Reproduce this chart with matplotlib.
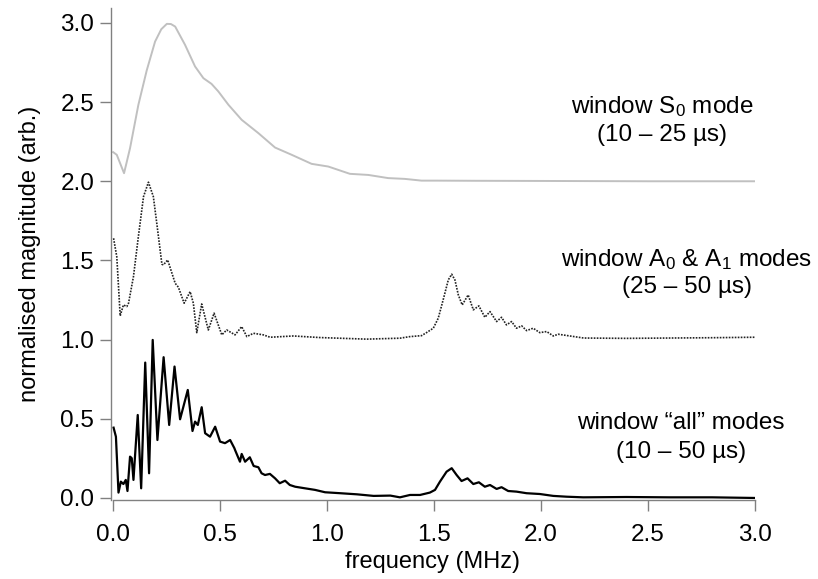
import matplotlib
matplotlib.use("Agg")
import matplotlib.pyplot as plt

plt.rcParams['font.family'] = ['Liberation Sans', 'DejaVu Sans']
plt.rcParams['mathtext.fontset'] = 'custom'
plt.rcParams['mathtext.rm'] = 'Liberation Sans'
plt.rcParams['mathtext.it'] = 'Liberation Sans:italic'

# window S0 mode (offset by +2)
s0_freq = [0.0, 0.017, 0.051, 0.079, 0.118, 0.157, 0.196, 0.225, 0.251, 0.270, 0.290, 0.336, 0.383,
           0.422, 0.460, 0.492, 0.539, 0.601, 0.679, 0.757, 0.835, 0.928, 1.006, 1.107, 1.193,
           1.286, 1.364, 1.442, 1.505, 1.7, 2.0, 2.5, 3.0]
s0_mag = [2.184, 2.167, 2.051, 2.209, 2.483, 2.700, 2.882, 2.960, 2.994, 2.993, 2.977, 2.862, 2.725,
          2.651, 2.615, 2.567, 2.483, 2.388, 2.304, 2.213, 2.167, 2.110, 2.093, 2.047, 2.040,
          2.020, 2.015, 2.004, 2.004, 2.003, 2.002, 2.000, 2.000]

# window A0 & A1 modes (offset by +1)
a_freq = [0.002, 0.017, 0.033, 0.048, 0.064, 0.072, 0.095, 0.118, 0.142, 0.165, 0.188,
          0.204, 0.228, 0.235, 0.255, 0.290, 0.305, 0.332, 0.360, 0.375, 0.391, 0.414,
          0.445, 0.472, 0.508, 0.531, 0.570, 0.601, 0.625, 0.656, 0.702, 0.734, 0.843,
          0.967, 1.185, 1.341, 1.388, 1.442, 1.465, 1.497, 1.520, 1.543, 1.567, 1.583,
          1.598, 1.614, 1.632, 1.660, 1.684, 1.710, 1.738, 1.762, 1.793, 1.816, 1.839,
          1.863, 1.886, 1.910, 1.933, 1.964, 1.995, 2.027, 2.058, 2.081, 2.2, 2.4, 2.6,
          2.8, 3.0]
a_mag = [1.640, 1.524, 1.150, 1.219, 1.209, 1.230, 1.398, 1.651, 1.903, 1.994, 1.903,
         1.735, 1.476, 1.472, 1.503, 1.356, 1.331, 1.230, 1.303, 1.230, 1.044, 1.225,
         1.061, 1.167, 1.030, 1.061, 1.030, 1.082, 1.019, 1.040, 1.030, 1.015, 1.023,
         1.013, 1.003, 1.009, 1.019, 1.025, 1.044, 1.072, 1.135, 1.251, 1.377, 1.413,
         1.377, 1.282, 1.219, 1.282, 1.188, 1.213, 1.141, 1.177, 1.114, 1.141, 1.093,
         1.114, 1.072, 1.087, 1.057, 1.072, 1.044, 1.051, 1.023, 1.034, 1.010, 1.008,
         1.010, 1.012, 1.015]

# window "all" modes (no offset)
all_freq = [0.002, 0.013, 0.025, 0.036, 0.048, 0.059, 0.067, 0.079, 0.087, 0.095, 0.115,
            0.131, 0.150, 0.168, 0.185, 0.207, 0.236, 0.262, 0.287, 0.313, 0.349, 0.371,
            0.383, 0.396, 0.414, 0.430, 0.453, 0.477, 0.500, 0.523, 0.547, 0.567, 0.57,
            0.593, 0.601, 0.617, 0.639, 0.657, 0.679, 0.694, 0.710, 0.733, 0.757, 0.779,
            0.804, 0.826, 0.851, 0.897, 0.944, 0.991, 1.062, 1.140, 1.218, 1.296, 1.341,
            1.388, 1.435, 1.481, 1.505, 1.528, 1.559, 1.583, 1.606, 1.629, 1.657, 1.684,
            1.710, 1.738, 1.762, 1.793, 1.816, 1.847, 1.886, 1.933, 1.995, 2.058, 2.120,
            2.198, 2.4, 2.6, 2.8, 3.0]
all_mag = [0.444, 0.387, 0.034, 0.103, 0.088, 0.114, 0.044, 0.261, 0.251, 0.114, 0.524,
           0.061, 0.855, 0.156, 0.998, 0.366, 0.889, 0.461, 0.830, 0.497, 0.682, 0.423,
           0.482, 0.461, 0.573, 0.409, 0.387, 0.450, 0.356, 0.346, 0.366, 0.314, 0.303,
           0.229, 0.278, 0.229, 0.257, 0.202, 0.194, 0.156, 0.145, 0.152, 0.124, 0.093,
           0.109, 0.082, 0.071, 0.061, 0.051, 0.036, 0.030, 0.023, 0.013, 0.015, 0.004,
           0.019, 0.019, 0.034, 0.051, 0.103, 0.166, 0.188, 0.145, 0.107, 0.124, 0.088,
           0.099, 0.071, 0.082, 0.057, 0.068, 0.044, 0.040, 0.030, 0.025, 0.013, 0.008,
           0.004, 0.006, 0.004, 0.004, 0.000]

x_ticks = [0.0, 0.5, 1.0, 1.5, 2.0, 2.5, 3.0]
y_ticks = [0.0, 0.5, 1.0, 1.5, 2.0, 2.5, 3.0]

fig = plt.figure(figsize=(8.18, 5.79), dpi=100)
ax = fig.add_axes([0.1357, 0.1364, 0.787, 0.850])

ax.plot(s0_freq, s0_mag, color='#c0c0c0', lw=1.4)
ax.plot(a_freq, a_mag, color='#222222', lw=1.2, ls=(0, (1, 0.8)))
ax.plot(all_freq, all_mag, color='black', lw=1.6)

ax.set_xlim(-0.01, 3.0)
ax.set_ylim(-0.013, 3.095)
ax.spines['top'].set_visible(False)
ax.spines['right'].set_visible(False)
for s in ('left', 'bottom'):
    ax.spines[s].set_color('#808080')
    ax.spines[s].set_linewidth(1.0)
ax.spines['bottom'].set_bounds(0.0, 3.0)

ax.set_xticks(x_ticks)
ax.set_yticks(y_ticks)
ax.set_xticklabels([f"{t:.1f}" for t in x_ticks])
ax.set_yticklabels([f"{t:.1f}" for t in y_ticks])
ax.tick_params(direction='out', length=8, width=1.0, color='#808080',
               labelsize=17.5, labelcolor='black')
ax.tick_params(axis='x', pad=9)
ax.tick_params(axis='y', pad=4)

ax.set_xlabel('frequency (MHz)', fontsize=17, labelpad=4)
ax.set_ylabel('normalised magnitude (arb.)', fontsize=17, labelpad=14)

txt_kw = dict(fontsize=17.5, ha='center', va='center')
ax.text(2.565, 2.47, 'window S$_0$ mode', **txt_kw)
ax.text(2.565, 2.29, '(10 – 25 µs)', **txt_kw)
ax.text(2.682, 1.505, 'window A$_0$ & A$_1$ modes', **txt_kw)
ax.text(2.682, 1.330, '(25 – 50 µs)', **txt_kw)
ax.text(2.654, 0.475, 'window “all” modes', **txt_kw)
ax.text(2.654, 0.290, '(10 – 50 µs)', **txt_kw)

fig.savefig('out.png', dpi=100)
